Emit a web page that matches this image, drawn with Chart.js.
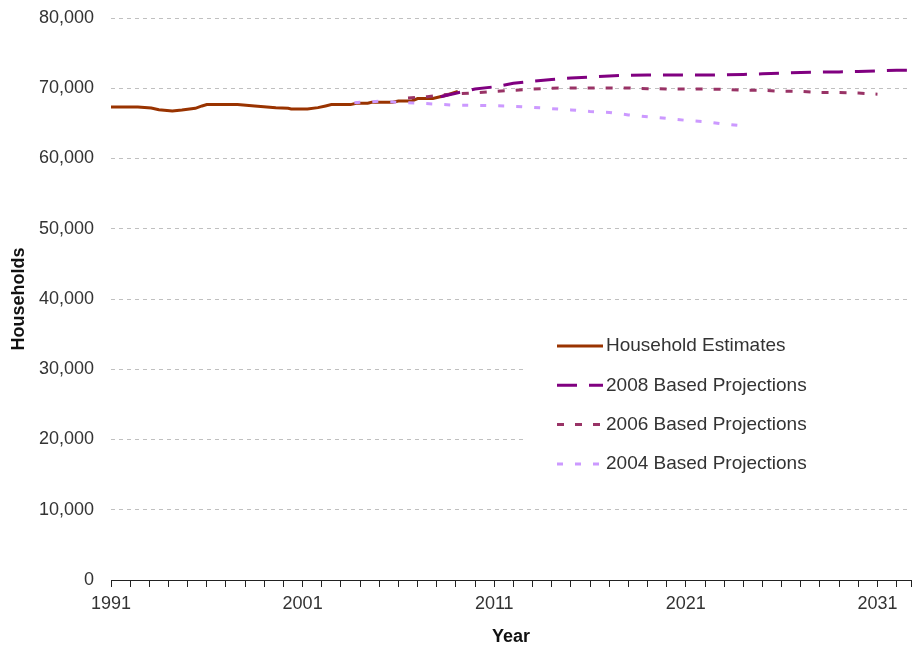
<!DOCTYPE html>
<html>
<head>
<meta charset="utf-8">
<script src="https://cdn.jsdelivr.net/npm/chart.js@4/dist/chart.umd.min.js"></script>
<style>
  html, body { margin: 0; padding: 0; background: #fff; }
  #wrap { width: 917px; height: 645px; }
</style>
</head>
<body>
<div id="wrap"><canvas id="households"></canvas></div>
<script>
// values
const estimateYears  = [1991, 1992.4, 1993.1, 1993.5, 1994.2, 1994.7, 1995.4, 1995.75, 1996.0, 1997.6, 1998.5, 1999.6, 2000.25, 2000.4, 2001.25, 2001.8, 2002.2, 2002.5, 2003.5, 2003.8, 2004.4, 2004.6, 2005.7, 2006.0, 2006.7, 2007.0, 2007.8, 2008.5, 2009.1];
const estimateValues = [67330, 67330, 67190, 66950, 66760, 66900, 67140, 67480, 67670, 67670, 67480, 67240, 67140, 67050, 67050, 67240, 67480, 67670, 67670, 67860, 67860, 68000, 68000, 68190, 68190, 68530, 68530, 69000, 69530];

const proj2008Years  = [2008.2, 2009, 2010, 2011, 2012, 2013, 2014, 2015, 2016, 2017, 2018, 2019, 2020, 2021, 2022, 2023, 2024, 2025, 2026, 2027, 2028, 2029, 2030, 2031, 2032, 2032.75];
const proj2008Values = [68800, 69300, 69900, 70200, 70700, 71000, 71250, 71450, 71600, 71750, 71850, 71900, 71900, 71880, 71870, 71900, 71970, 72050, 72150, 72230, 72290, 72330, 72380, 72480, 72570, 72580];

const proj2006Years  = [2006.5, 2007.5, 2008.5, 2009, 2010, 2011, 2012, 2013, 2014, 2015, 2016, 2017, 2018, 2019, 2020, 2021, 2022, 2023, 2024, 2025, 2026, 2027, 2028, 2029, 2030, 2031];
const proj2006Values = [68600, 68800, 69100, 69200, 69350, 69550, 69710, 69880, 70000, 70050, 70050, 70050, 70030, 69930, 69900, 69900, 69880, 69850, 69720, 69700, 69580, 69560, 69400, 69380, 69320, 69150];

const proj2004Years  = [2003.7, 2004, 2005, 2006, 2007, 2008, 2009, 2010, 2011, 2012, 2013, 2014, 2015, 2016, 2017, 2018, 2019, 2020, 2021, 2022, 2023, 2024];
const proj2004Values = [67950, 68000, 68150, 68000, 67880, 67740, 67580, 67560, 67520, 67420, 67280, 67100, 66920, 66700, 66560, 66200, 65950, 65700, 65430, 65250, 64900, 64650];

const seriesNames = ['Household Estimates', '2008 Based Projections', '2006 Based Projections', '2004 Based Projections'];
const labelledYears = [1991, 2001, 2011, 2021, 2031];

const xMin = 1991, xMax = 2032.75;
const FONT = '"Liberation Sans", Arial, sans-serif';
const TEXT = '#333333';

const pts = (xs, ys) => xs.map((x, i) => ({ x: x, y: ys[i] }));

// white box legend sitting inside the plot, like the original
const boxLegend = {
  id: 'boxLegend',
  afterDatasetsDraw(chart) {
    const { ctx, chartArea } = chart;
    const left = chartArea.left + 416, top = chartArea.top + 307;
    ctx.save();
    ctx.fillStyle = '#ffffff';
    ctx.fillRect(left, top, chartArea.right - left, 160);
    ctx.font = '19px ' + FONT;
    ctx.textBaseline = 'middle';
    ctx.fillStyle = TEXT;
    chart.data.datasets.forEach((ds, i) => {
      const y = top + 21 + i * 39.3;
      const x0 = left + 30;
      ctx.beginPath();
      ctx.strokeStyle = ds.borderColor;
      ctx.lineWidth = ds.borderWidth;
      ctx.setLineDash(ds.borderDash || []);
      ctx.moveTo(x0, y);
      ctx.lineTo(x0 + 46, y);
      ctx.stroke();
      ctx.setLineDash([]);
      ctx.fillText(ds.label, x0 + 49, y);
    });
    ctx.restore();
  }
};

new Chart(document.getElementById('households'), {
  type: 'line',
  data: {
    datasets: [
      { label: seriesNames[0], data: pts(estimateYears, estimateValues), borderColor: '#993300', borderWidth: 3, order: 4 },
      { label: seriesNames[1], data: pts(proj2008Years, proj2008Values), borderColor: '#800080', borderWidth: 3, borderDash: [20, 12], order: 1 },
      { label: seriesNames[2], data: pts(proj2006Years, proj2006Values), borderColor: '#993366', borderWidth: 3, borderDash: [7, 11], order: 2 },
      { label: seriesNames[3], data: pts(proj2004Years, proj2004Values), borderColor: '#cc99ff', borderWidth: 3, borderDash: [6, 12], order: 3 }
    ]
  },
  options: {
    responsive: true,
    maintainAspectRatio: false,
    animation: false,
    layout: { padding: { top: 18, right: 5, left: 0, bottom: 0 } },
    elements: { point: { radius: 0 }, line: { tension: 0, borderCapStyle: 'butt' } },
    plugins: {
      legend: { display: false },
      tooltip: { enabled: false }
    },
    scales: {
      x: {
        type: 'linear',
        min: xMin,
        max: xMax,
        afterBuildTicks: scale => {
          const t = [];
          for (let y = xMin; y <= 2032; y++) t.push({ value: y });
          t.push({ value: xMax });
          scale.ticks = t;
        },
        afterFit: scale => { scale.height = 65; },
        ticks: {
          autoSkip: false,
          maxRotation: 0,
          minRotation: 0,
          padding: 6,
          color: TEXT,
          font: { family: FONT, size: 18 },
          callback: v => labelledYears.includes(v) ? String(v) : ''
        },
        grid: { drawOnChartArea: false, drawTicks: true, tickLength: 7, tickColor: '#222222' },
        border: { display: true, color: '#222222', width: 1 },
        title: {
          display: true,
          text: 'Year',
          color: '#111111',
          font: { family: FONT, size: 18, weight: 'bold' },
          padding: { top: 0, bottom: -3 }
        }
      },
      y: {
        min: 0,
        max: 80000,
        afterFit: scale => {
          scale.width = 111;
          scale.paddingTop = 0;
          scale.paddingBottom = 0;
        },
        ticks: {
          stepSize: 10000,
          padding: 17,
          color: TEXT,
          font: { family: FONT, size: 18 },
          callback: v => v.toLocaleString('en-US')
        },
        grid: {
          drawTicks: false,
          color: ctx => ctx.tick && ctx.tick.value === 0 ? 'rgba(0,0,0,0)' : '#c0c0c0',
          lineWidth: 1
        },
        border: { display: false, dash: [4, 4] },
        title: {
          display: true,
          text: 'Households',
          color: '#111111',
          font: { family: FONT, size: 18, weight: 'bold' },
          padding: { top: 8, bottom: 0 }
        }
      }
    }
  },
  plugins: [boxLegend]
});
</script>
</body>
</html>
